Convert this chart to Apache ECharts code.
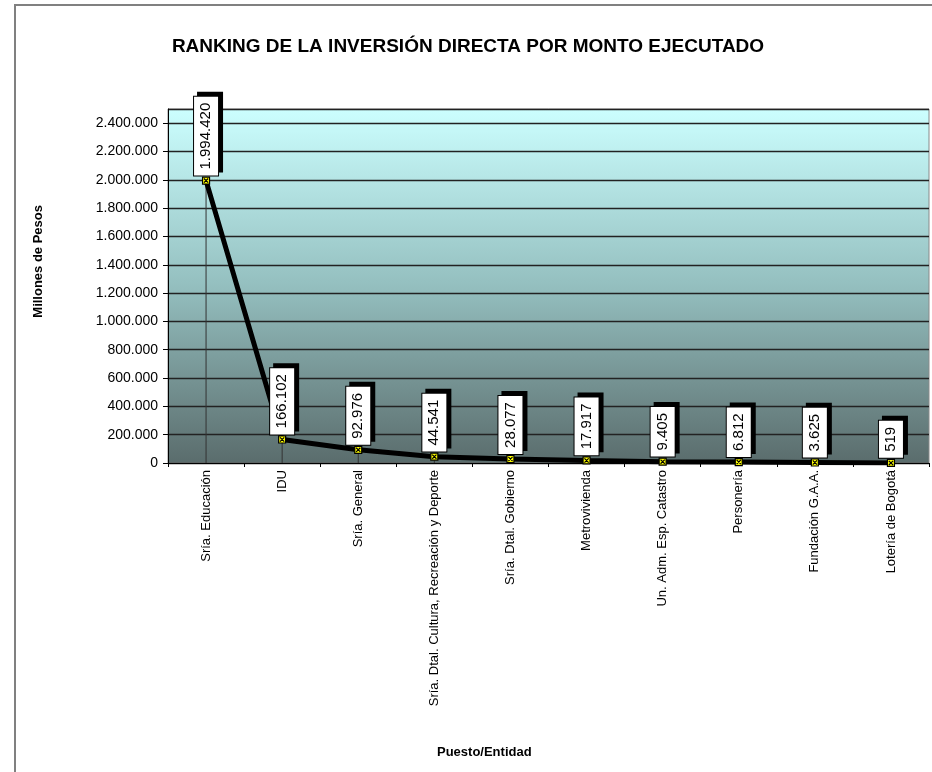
<!DOCTYPE html>
<html lang="es">
<head>
  <meta charset="UTF-8">
  <title>Ranking inversión directa</title>
  <script src="https://cdn.jsdelivr.net/npm/echarts@6.0.0/dist/echarts.min.js"></script>
  <style>
    html, body { margin: 0; padding: 0; background: #fff; }
  </style>
</head>
<body>
<div id="main" style="width: 932px;height:772px;"></div>
<script type="text/javascript">

  // entidades (eje x)
  const entidades = ['Sría. Educación', 'IDU', 'Sría. General', 'Sría. Dtal. Cultura, Recreación y Deporte',
    'Sría. Dtal. Gobierno', 'Metrovivienda', 'Un. Adm. Esp. Catastro', 'Personería',
    'Fundación G.A.A.', 'Lotería de Bogotá'];
  // monto ejecutado, millones de pesos
  const montos = [1994420, 166102, 92976, 44541, 28077, 17917, 9405, 6812, 3625, 519];

  // formato con punto de miles
  function miles(v) {
    return String(v).replace(/\B(?=(\d{3})+(?!\d))/g, '.');
  }

  var myChart = echarts.init(document.getElementById('main'));
  const fuente = 'Arial, "Liberation Sans", sans-serif';

  myChart.setOption({
    backgroundColor: '#fff',
    animation: false,
    title: {
      text: 'RANKING DE LA INVERSIÓN DIRECTA POR MONTO EJECUTADO',
      left: 463,
      top: 32,
      textAlign: 'center',
      textStyle: {fontFamily: fuente, fontSize: 19, fontWeight: 'bold', color: '#000'}
    },
    graphic: [
      // marco del gráfico
      {type: 'rect', shape: {x: 15, y: 5, width: 1000, height: 900},
        style: {fill: 'none', stroke: '#808080', lineWidth: 2}, silent: true},
      {type: 'text', left: 32, top: 205, rotation: Math.PI / 2,
        style: {text: 'Millones de Pesos', font: 'bold 13px ' + fuente, fill: '#000'}},
      {type: 'text', left: 437, top: 746,
        style: {text: 'Puesto/Entidad', font: 'bold 13px ' + fuente, fill: '#000'}}
    ],
    grid: {
      left: 168, top: 109, right: 3, bottom: 309,
      show: true,
      borderColor: '#8a8a8a',
      borderWidth: 1,
      backgroundColor: {
        type: 'linear', x: 0, y: 0, x2: 0, y2: 1,
        colorStops: [{offset: 0, color: '#ccffff'}, {offset: 0.5, color: '#94bfbf'}, {offset: 1, color: '#5a6c6c'}]
      }
    },
    xAxis: {
      type: 'category',
      data: entidades,
      boundaryGap: true,
      axisLine: {lineStyle: {color: '#000', width: 1}},
      axisTick: {show: true, alignWithLabel: false, length: 4, lineStyle: {color: '#000'}},
      axisLabel: {rotate: 90, interval: 0, margin: 7, fontFamily: fuente, fontSize: 13, color: '#000'},
      splitLine: {show: false}
    },
    yAxis: {
      type: 'value',
      min: 0,
      max: 2500000,
      interval: 200000,
      axisLine: {show: true, lineStyle: {color: '#000', width: 1}},
      axisTick: {show: true, length: 5, lineStyle: {color: '#000'}},
      axisLabel: {
        showMaxLabel: false,
        margin: 10,
        fontFamily: fuente, fontSize: 14, color: '#000',
        formatter: function (v) { return v === 2500000 ? '' : miles(v); }
      },
      splitLine: {show: true, lineStyle: {color: '#222', width: 1.3}}
    },
    series: [
      // líneas de proyección
      {
        type: 'bar',
        data: montos,
        barWidth: 1,
        itemStyle: {color: '#333'},
        silent: true,
        z: 1
      },
      {
        name: 'Monto',
        type: 'line',
        data: montos,
        z: 3,
        symbol: 'path://M0,0H10V10H0Z M2,2L8,8 M8,2L2,8',
        symbolSize: 7,
        showAllSymbol: true,
        lineStyle: {color: '#000', width: 5},
        itemStyle: {color: '#ffff00', borderColor: '#000', borderWidth: 1.2},
        label: {
          show: true,
          position: 'top',
          distance: 1,
          rotate: 90,
          align: 'left',
          verticalAlign: 'middle',
          formatter: function (p) { return miles(p.value); },
          fontFamily: fuente,
          fontSize: 15,
          color: '#000',
          backgroundColor: '#fff',
          borderColor: '#000',
          borderWidth: 1,
          padding: [5, 6, 4, 6],
          shadowColor: '#000',
          shadowBlur: 0,
          shadowOffsetX: 4,
          shadowOffsetY: -4
        }
      }
    ]
  });

</script>
</body>
</html>
